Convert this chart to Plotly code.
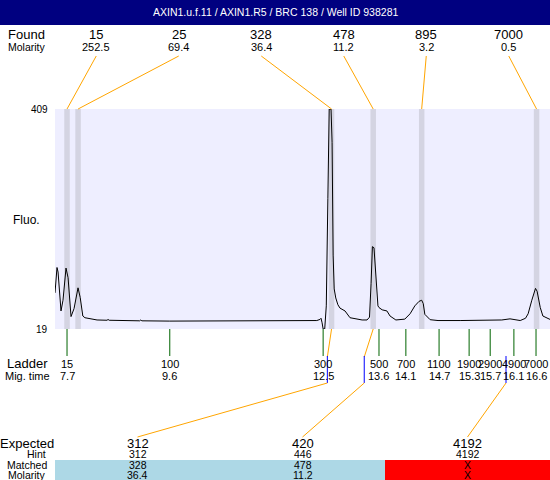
import plotly.graph_objects as go

# electropherogram trace (migration time s, fluorescence)
mig_time = [7.472, 7.51, 7.53, 7.586, 7.624, 7.681, 7.72, 7.776, 7.833, 7.909, 7.95, 8.0, 8.04, 8.27,
            8.46, 8.478, 8.50, 9.08, 9.10, 9.12, 9.65, 11.17, 12.12, 12.44, 12.50, 12.52, 12.54, 12.56,
            12.59, 12.62, 12.65, 12.675, 12.71, 12.73, 12.75, 12.77, 12.80, 12.84, 12.88, 12.975, 13.07,
            13.165, 13.30, 13.393, 13.44, 13.47, 13.495, 13.525, 13.56, 13.60, 13.62, 13.68, 13.77, 13.83,
            13.94, 14.11, 14.21, 14.30, 14.38, 14.43, 14.46, 14.49, 14.59, 14.74, 15.16, 15.72, 15.80,
            15.95, 16.106, 16.20, 16.30, 16.40, 16.45, 16.52, 16.59, 16.62, 16.68, 16.73, 16.81, 16.865]
fluo = [83, 128, 120, 51, 70, 127, 110, 41, 55, 92, 75, 42, 39, 35,
        34.5, 36, 34.5, 33.5, 35, 33.5, 33, 33, 34, 34, 36, 38, 30, 19,
        19, 60, 250, 409, 409, 350, 150, 90, 74, 62, 56, 51, 39,
        37, 35, 35, 40, 100, 165, 163, 110, 60, 57, 53, 51, 42,
        35, 36.5, 46, 60, 68, 70, 64, 45, 35.5, 34, 34, 34, 35,
        35, 37, 35, 34, 38, 46, 70, 91, 86, 57, 42, 39, 36]

title = "AXIN1.u.f.11 / AXIN1.R5 / BRC 138 / Well ID 938281"

found_size = [15, 25, 328, 478, 895, 7000]
found_molarity = ["252.5", "69.4", "36.4", "11.2", "3.2", "0.5"]
found_time = [7.70, 7.91, 12.72, 13.51, 14.43, 16.61]

ladder_size = [15, 100, 300, 500, 700, 1100, 1900, 2900, 4900, 7000]
ladder_time = [7.70, 9.65, 12.56, 13.62, 14.13, 14.76, 15.33, 15.73, 16.18, 16.60]
ladder_time_label = ["7.7", "9.6", "12.5", "13.6", "14.1", "14.7", "15.3", "15.7", "16.1", "16.6"]

expected_size = [312, 420, 4192]
expected_hint = [312, 446, 4192]
expected_time = [12.64, 13.34, 16.03]
matched_size = ["328", "478", "X"]
matched_molarity = ["36.4", "11.2", "X"]
matched_found = [2, 3, None]   # index into found_*

y_range = [19, 409]
x_range = [7.472, 16.865]

FONT = "Arial"


def py(y):  # pixel row -> paper y
    return (329 - y) / 220


def px(x):  # pixel column -> paper x
    return (x - 55) / 495


def frac_t(f):  # paper x -> data x
    return x_range[0] + f * (x_range[1] - x_range[0])


fig = go.Figure(go.Scatter(x=mig_time, y=fluo, mode="lines",
                           line=dict(color="black", width=1), hoverinfo="skip"))

shapes = []
ann = []


def text(x, y, s, size, color="black", xref="paper", yref="paper", xanchor="center"):
    ann.append(dict(x=x, y=y, xref=xref, yref=yref, text=s, showarrow=False,
                    xanchor=xanchor, yanchor="middle", borderpad=0,
                    font=dict(family=FONT, size=size, color=color)))


def line(x0, y0, x1, y1, color, xref="x"):
    shapes.append(dict(type="line", xref=xref, yref="paper", x0=x0, y0=y0, x1=x1, y1=y1,
                       line=dict(color=color, width=1)))


# title bar
shapes.append(dict(type="rect", xref="paper", yref="paper", x0=px(0), x1=px(550),
                   y0=py(25), y1=py(-2), fillcolor="#000080", line=dict(width=0)))
text(px(275), py(12.5), title, 10.5, "white")

# y axis labels
for v in y_range:
    text(px(49), v, str(v), 10, yref="y", xanchor="right")
text(px(26), py(220), "Fluo.", 12)

# found peaks: bands, labels, connectors
for i, t in enumerate(found_time):
    shapes.append(dict(type="rect", xref="x", yref="paper", x0=t - 0.052, x1=t + 0.052,
                       y0=0, y1=1, fillcolor="#D4D4E2", line=dict(width=0), layer="below"))
    f = (i + 0.5) / len(found_time)
    text(f, py(34), str(found_size[i]), 13)
    text(f, py(47), found_molarity[i], 11)
    line(frac_t(f), py(56), t, 1, "orange")
text(px(26), py(34), "Found", 13)
text(px(27), py(47), "Molarity", 10.5)

# ladder
for s, t, lab in zip(ladder_size, ladder_time, ladder_time_label):
    line(t, 0, t, py(356), "#006400")
    text(t, py(363.5), str(s), 11, xref="x")
    text(t, py(376), lab, 11, xref="x")
text(px(27), py(363.5), "Ladder", 13)
text(px(27), py(376), "Mig. time", 11)

# expected sizes and table
for i, t in enumerate(expected_time):
    f = (i + 0.5) / len(expected_time)
    k = matched_found[i]
    if k is not None:
        line(found_time[k], 0, t, py(357), "orange")
    line(t, py(356), t, py(383), "blue")
    line(t, py(383), frac_t(f), py(437), "orange")
    shapes.append(dict(type="rect", xref="paper", yref="paper",
                       x0=i / len(expected_time), x1=(i + 1) / len(expected_time),
                       y0=py(481), y1=py(460), layer="below",
                       fillcolor="#ADD8E6" if k is not None else "#FF0000", line=dict(width=0)))
    text(f, py(443), str(expected_size[i]), 13)
    text(f, py(454), str(expected_hint[i]), 10.5)
    text(f, py(465), matched_size[i], 10.5)
    text(f, py(474.5), matched_molarity[i], 10.5)
text(px(27), py(443), "Expected", 13)
text(px(36), py(454), "Hint", 10.5)
text(px(27), py(465), "Matched", 10.5)
text(px(27), py(474.5), "Molarity", 10.5)

fig.update_layout(
    width=550, height=480,
    margin=dict(l=55, r=0, t=109, b=151, pad=0),
    paper_bgcolor="white", plot_bgcolor="#EEEEFF",
    showlegend=False,
    shapes=shapes, annotations=ann,
    xaxis=dict(range=x_range, showgrid=False, zeroline=False, showticklabels=False,
               ticks="", showline=False, fixedrange=True),
    yaxis=dict(range=y_range, showgrid=False, zeroline=False, showticklabels=False,
               ticks="", showline=False, fixedrange=True),
)

fig.write_html("out.html", config={"displayModeBar": False},
               post_script="document.body.style.margin='0';document.body.style.overflow='hidden';")
